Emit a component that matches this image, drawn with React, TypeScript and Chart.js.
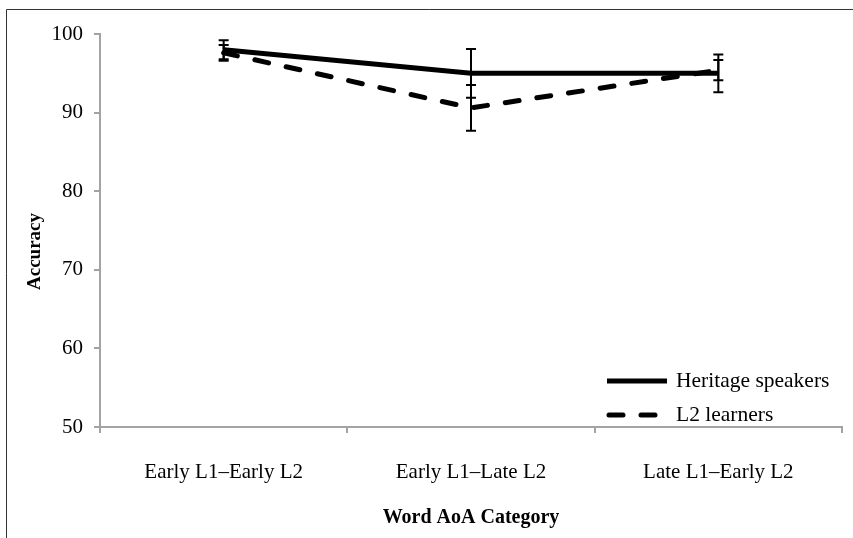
import React, { useEffect, useRef } from "react";
import { Chart, registerables } from "chart.js";

Chart.register(...registerables);

const categories = ["Early L1–Early L2", "Early L1–Late L2", "Late L1–Early L2"];
const seriesNames = ["Heritage speakers", "L2 learners"];
const heritageValues = [98.0, 95.0, 95.0];
const heritageErrors = [1.2, 3.1, 2.4];
const l2Values = [97.6, 90.6, 95.4];
const l2Errors = [1.0, 2.9, 1.3];
const yMin = 50;
const yMax = 100;
const yStep = 10;
const yTitle = "Accuracy";
const xTitle = "Word AoA Category";

const FONT = "'Liberation Serif', 'Times New Roman', serif";
const AXIS_GRAY = "#a3a3a3";

const errorBarPlugin = {
  id: "errorBars",
  afterDatasetsDraw(chart: any) {
    const { ctx, scales } = chart;
    const xs = scales.x;
    const ys = scales.y;
    ctx.save();
    ctx.strokeStyle = "#000";
    ctx.lineWidth = 2;
    chart.data.datasets.forEach((ds: any) => {
      const errs: number[] = ds.errors || [];
      ds.data.forEach((v: number, i: number) => {
        const e = errs[i];
        if (e == null) return;
        const x = xs.getPixelForValue(i);
        const yt = ys.getPixelForValue(v + e);
        const yb = ys.getPixelForValue(v - e);
        ctx.beginPath();
        ctx.moveTo(x, yt);
        ctx.lineTo(x, yb);
        ctx.moveTo(x - 5, yt);
        ctx.lineTo(x + 5, yt);
        ctx.moveTo(x - 5, yb);
        ctx.lineTo(x + 5, yb);
        ctx.stroke();
      });
    });
    ctx.restore();
  },
};

const legendPlugin = {
  id: "innerLegend",
  afterDraw(chart: any) {
    const { ctx, chartArea } = chart;
    const x0 = chartArea.right - 235;
    const rows = [chartArea.bottom - 46, chartArea.bottom - 12];
    ctx.save();
    chart.data.datasets.forEach((ds: any, i: number) => {
      const y = rows[i];
      ctx.beginPath();
      ctx.strokeStyle = ds.borderColor;
      ctx.lineWidth = ds.borderWidth;
      ctx.lineCap = ds.borderCapStyle || "butt";
      ctx.setLineDash(ds.borderDash || []);
      ctx.moveTo(x0 + (ds.borderDash ? 2 : 0), y);
      ctx.lineTo(x0 + 60, y);
      ctx.stroke();
      ctx.setLineDash([]);
      ctx.fillStyle = "#000";
      ctx.font = `21.5px ${FONT}`;
      ctx.textBaseline = "middle";
      ctx.textAlign = "left";
      ctx.fillText(ds.label, x0 + 69, y);
    });
    ctx.restore();
  },
};

const yTitlePlugin = {
  id: "yTitle",
  afterDraw(chart: any) {
    const { ctx, chartArea } = chart;
    ctx.save();
    ctx.translate(35, (chartArea.top + chartArea.bottom) / 2 + 21);
    ctx.rotate(-Math.PI / 2);
    ctx.fillStyle = "#000";
    ctx.font = `bold 19px ${FONT}`;
    ctx.textAlign = "center";
    ctx.textBaseline = "middle";
    ctx.fillText(yTitle, 0, 0);
    ctx.restore();
  },
};

const framePlugin = {
  id: "frame",
  beforeDraw(chart: any) {
    const { ctx, width, height } = chart;
    ctx.save();
    ctx.fillStyle = "#fff";
    ctx.fillRect(0, 0, width, height);
    ctx.strokeStyle = "#333";
    ctx.lineWidth = 1;
    ctx.beginPath();
    ctx.moveTo(6.5, height);
    ctx.lineTo(6.5, 9.5);
    ctx.lineTo(width, 9.5);
    ctx.stroke();
    ctx.restore();
  },
};

export default function App() {
  const ref = useRef<HTMLCanvasElement | null>(null);
  useEffect(() => {
    if (!ref.current) return;
    const chart = new Chart(ref.current, {
      type: "line",
      data: {
        labels: categories,
        datasets: [
          {
            label: seriesNames[0],
            data: heritageValues,
            errors: heritageErrors,
            borderColor: "#000",
            borderWidth: 5,
            pointRadius: 0,
            tension: 0,
            fill: false,
          } as any,
          {
            label: seriesNames[1],
            data: l2Values,
            errors: l2Errors,
            borderColor: "#000",
            borderWidth: 5,
            borderDash: [14, 18],
            borderCapStyle: "round",
            pointRadius: 0,
            tension: 0,
            fill: false,
          } as any,
        ],
      },
      options: {
        animation: false,
        responsive: false,
        maintainAspectRatio: false,
        layout: { padding: { left: 0, top: 34, right: 11, bottom: 0 } },
        plugins: {
          legend: { display: false },
          tooltip: { enabled: false },
        },
        scales: {
          x: {
            type: "category",
            offset: true,
            grid: {
              offset: true,
              drawOnChartArea: false,
              drawTicks: true,
              tickLength: 6,
              color: AXIS_GRAY,
              lineWidth: 2,
            },
            border: { color: AXIS_GRAY, width: 2 },
            ticks: {
              color: "#000",
              font: { family: FONT, size: 21 },
              padding: 27,
              maxRotation: 0,
            },
            title: {
              display: true,
              text: xTitle,
              color: "#000",
              font: { family: FONT, size: 20, weight: "bold" },
              padding: { top: 0, bottom: 8 },
            },
            afterFit(scale: any) {
              scale.height = 111;
            },
          },
          y: {
            min: yMin,
            max: yMax,
            ticks: {
              stepSize: yStep,
              color: "#000",
              font: { family: FONT, size: 21 },
              padding: 11,
            },
            grid: {
              drawOnChartArea: false,
              drawTicks: true,
              tickLength: 6,
              color: AXIS_GRAY,
              lineWidth: 2,
            },
            border: { color: AXIS_GRAY, width: 2 },
            title: { display: false },
            afterFit(scale: any) {
              scale.width = 100;
            },
          },
        },
      } as any,
      plugins: [errorBarPlugin, legendPlugin, yTitlePlugin, framePlugin],
    });
    return () => chart.destroy();
  }, []);
  return (
    <div style={{ position: "fixed", left: 0, top: 0, width: 853, height: 538 }}>
      <canvas ref={ref} width={853} height={538} style={{ display: "block" }} />
    </div>
  );
}
